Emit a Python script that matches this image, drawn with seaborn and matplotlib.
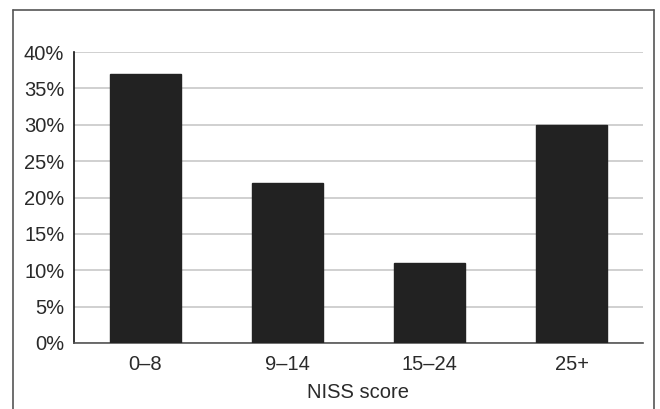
import matplotlib
matplotlib.use("Agg")
import matplotlib.pyplot as plt
import seaborn as sns
import pandas as pd
from matplotlib.lines import Line2D

categories = ["0–8", "9–14", "15–24", "25+"]
values = [37, 22, 11, 30]
yticks = [0, 5, 10, 15, 20, 25, 30, 35, 40]
ytick_labels = [f"{v}%" for v in yticks]

sns.set_theme(style="white")
plt.rcParams['font.family'] = ['Liberation Sans', 'DejaVu Sans']

df = pd.DataFrame({"cat": categories, "val": values})

fig = plt.figure(figsize=(6.6, 4.09), dpi=100)
ax = fig.add_axes([74/660, 1 - 343/409, (643-74)/660, (343-52)/409])
sns.barplot(data=df, x="cat", y="val", color="#222222", width=0.5, ax=ax,
            saturation=1, edgecolor="#222222", zorder=3)
ax.set_ylim(0, 40)
ax.set_xlim(-0.5, 3.5)
ax.set_yticks(yticks)
ax.set_yticklabels(ytick_labels, fontsize=14.5, color="#2a2a2a")
ax.tick_params(axis="x", labelsize=14.5, colors="#2a2a2a", length=0, pad=9)
ax.tick_params(axis="y", length=0, pad=7)
ax.grid(axis="y", color="#c8c8c8", linewidth=1.2, zorder=0)
ax.set_axisbelow(True)
ax.set_xlabel("NISS score", fontsize=14.5, color="#2a2a2a", labelpad=6)
ax.set_ylabel("")
for s in ["top", "right"]:
    ax.spines[s].set_visible(False)
ax.spines["left"].set_color("#111111")
ax.spines["left"].set_linewidth(1.2)
ax.spines["bottom"].set_color("#555555")
ax.spines["bottom"].set_linewidth(1.2)

# outer frame
fc = "#555555"
fig.add_artist(Line2D([13/660, 13/660], [0, 1 - 10/409], color=fc, lw=1.2, transform=fig.transFigure))
fig.add_artist(Line2D([654/660, 654/660], [0, 1 - 10/409], color=fc, lw=1.2, transform=fig.transFigure))
fig.add_artist(Line2D([13/660, 654/660], [1 - 10/409, 1 - 10/409], color=fc, lw=1.2, transform=fig.transFigure))

fig.savefig("out.png", dpi=100)
